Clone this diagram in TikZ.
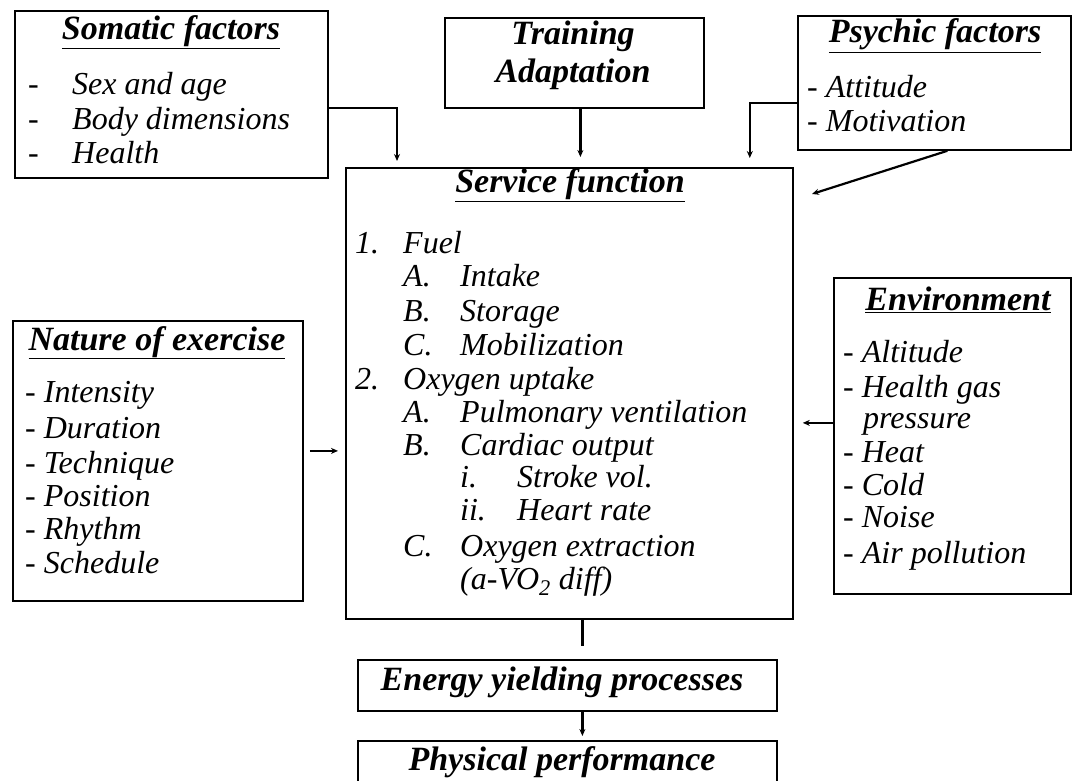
\documentclass[tikz,border=0pt]{standalone}
\usepackage{fontspec}
\setmainfont{Liberation Serif}
\usetikzlibrary{arrows.meta}

\tikzset{
  box/.style={draw, line width=1.8pt, anchor=north west, inner sep=0pt},
  head/.style={anchor=base, inner sep=0pt, font=\fontsize{34}{38}\selectfont\bfseries\itshape},
  item/.style={anchor=base west, inner sep=0pt, font=\fontsize{32}{36}\selectfont\itshape},
  label/.style={anchor=base, inner sep=0pt, font=\fontsize{34}{38}\selectfont\bfseries\itshape},
  arr/.style={line width=2.2pt, -{Stealth[length=7pt,width=6pt]}},
  link/.style={line width=2.6pt}
}

\begin{document}
\begin{tikzpicture}[x=1pt, y=-1pt]
\useasboundingbox (0,0) rectangle (1072,781);
\clip (0,0) rectangle (1072,781);

% ---- boxes ----
\node[box, minimum width=313pt, minimum height=167pt] (som) at (14,10) {};
\node[box, minimum width=259pt, minimum height=90pt]  (trn) at (444,17) {};
\node[box, minimum width=273pt, minimum height=134pt] (psy) at (797,15) {};
\node[box, minimum width=447pt, minimum height=451pt] (svc) at (345,167) {};
\node[box, minimum width=290pt, minimum height=280pt] (nat) at (12,320) {};
\node[box, minimum width=237pt, minimum height=316pt] (env) at (833,277) {};
\node[box, minimum width=419pt, minimum height=51pt]  (eng) at (357,659) {};
\node[box, minimum width=419pt, minimum height=70pt]  (phy) at (357,740) {};

% ---- somatic factors ----
\node[head] (somT) at (171,40) {\underline{Somatic factors}};
\node[item] (somD1) at (28,95)  {-};
\node[item] (somI1) at (72,95)  {Sex and age};
\node[item] (somD2) at (28,130) {-};
\node[item] (somI2) at (72,130) {Body dimensions};
\node[item] (somD3) at (28,164) {-};
\node[item] (somI3) at (72,164) {Health};

% ---- training ----
\node[label] (trnA) at (573,45) {Training};
\node[label] (trnB) at (573,83) {Adaptation};

% ---- psychic factors ----
\node[head] (psyT) at (935,43) {\underline{Psychic factors}};
\node[item] (psyI1) at (807,98)  {- Attitude};
\node[item] (psyI2) at (807,132) {- Motivation};

% ---- service function ----
\node[head] (svcT) at (570,193) {\underline{Service function}};
\node[item] (n1)  at (355,253) {1.};
\node[item] (s1)  at (403,253) {Fuel};
\node[item] (n1a) at (403,287) {A.};
\node[item] (s1a) at (460,287) {Intake};
\node[item] (n1b) at (403,321) {B.};
\node[item] (s1b) at (460,321) {Storage};
\node[item] (n1c) at (403,355) {C.};
\node[item] (s1c) at (460,355) {Mobilization};
\node[item] (n2)  at (355,389) {2.};
\node[item] (s2)  at (403,389) {Oxygen uptake};
\node[item] (n2a) at (403,422) {A.};
\node[item] (s2a) at (460,422) {Pulmonary ventilation};
\node[item] (n2b) at (403,455) {B.};
\node[item] (s2b) at (460,455) {Cardiac output};
\node[item] (n2bi)  at (460,487) {i.};
\node[item] (s2bi)  at (517,487) {Stroke vol.};
\node[item] (n2bii) at (460,520) {ii.};
\node[item] (s2bii) at (517,520) {Heart rate};
\node[item] (n2c) at (403,556) {C.};
\node[item] (s2c) at (460,556) {Oxygen extraction};
\node[item] (s2cx) at (460,589) {(a-VO\textsubscript{2} diff)};

% ---- nature of exercise ----
\node[head] (natT) at (157,350) {\underline{Nature of exercise}};
\node[item] (natI1) at (25,402) {- Intensity};
\node[item] (natI2) at (25,438) {- Duration};
\node[item] (natI3) at (25,473) {- Technique};
\node[item] (natI4) at (25,506) {- Position};
\node[item] (natI5) at (25,539) {- Rhythm};
\node[item] (natI6) at (25,573) {- Schedule};

% ---- environment ----
\node[head] (envT) at (958,310) {\underline{Environment}};
\node[item] (envI1) at (843,362) {- Altitude};
\node[item] (envI2) at (843,397) {- Health gas};
\node[item] (envI2b) at (863,428) {pressure};
\node[item] (envI3) at (843,462) {- Heat};
\node[item] (envI4) at (843,495) {- Cold};
\node[item] (envI5) at (843,527) {- Noise};
\node[item] (envI6) at (843,563) {- Air pollution};

% ---- bottom chain ----
\node[label] (engT) at (562,690) {Energy yielding processes};
\node[label] (phyT) at (562,770) {Physical performance};

% ---- connectors ----
\coordinate (psyTip) at (812,194);
\draw[arr, shorten >=6pt] ([yshift=-98pt]som.north east) -| ([xshift=52pt]svc.north west);
\draw[arr, shorten >=10pt] ([xshift=6pt]trn.south) -- ([xshift=6pt]trn.south |- svc.north);
\draw[arr, shorten >=9pt] ([yshift=-88pt]psy.north west) -| ([xshift=-44pt]svc.north east);
\draw[arr] ([xshift=13pt]psy.south) -- (psyTip);
\draw[arr, shorten <=6pt, shorten >=7pt] ([yshift=10pt]nat.east) -- ([yshift=10pt]nat.east -| svc.west);
\draw[arr, shorten >=9pt] ([yshift=13pt]env.west) -- ([yshift=13pt]env.west -| svc.east);
\draw[link, shorten >=13pt] ([xshift=13pt]svc.south) -- ([xshift=13pt]svc.south |- eng.north);
\draw[arr, shorten >=4pt] ([xshift=15pt]eng.south) -- ([xshift=15pt]eng.south |- phy.north);
\end{tikzpicture}
\end{document}
